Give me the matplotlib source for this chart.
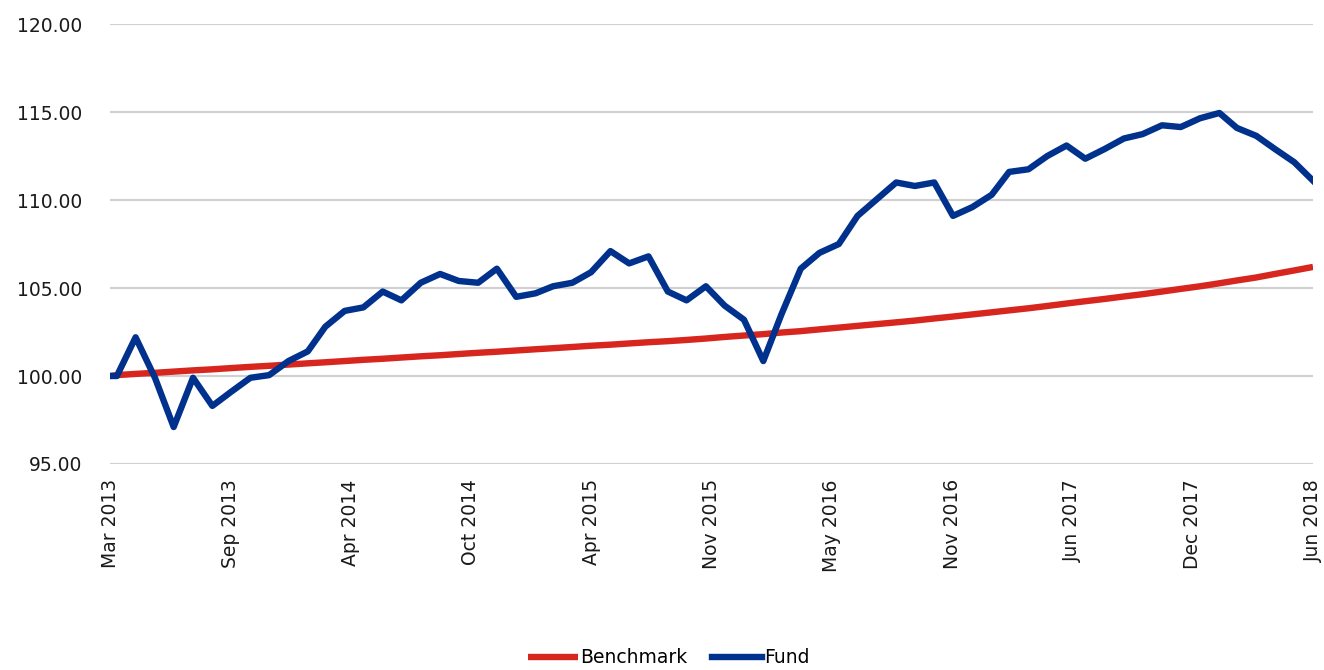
import numpy as np
import pandas as pd
import matplotlib
matplotlib.use('Agg')
from matplotlib import pyplot as plt
import matplotlib.dates as mdates


# inception date, then month-end values
start_date = pd.Timestamp('2013-03-20')
month_ends = pd.date_range('2013-03-31', periods=64, freq='ME')
dates = [start_date] + list(month_ends)

fund = [100.0,
        100.0, 102.2, 99.9, 97.1, 99.9, 98.3, 99.1, 99.9, 100.05, 100.85,
        101.4, 102.8, 103.7, 103.9, 104.8, 104.3, 105.3, 105.8, 105.4, 105.3,
        106.1, 104.5, 104.7, 105.1, 105.3, 105.9, 107.1, 106.4, 106.8, 104.8,
        104.3, 105.1, 104.0, 103.2, 100.85, 103.5, 106.1, 107.0, 107.5, 109.1,
        110.05, 111.0, 110.8, 111.0, 109.1, 109.6, 110.3, 111.6, 111.75, 112.5,
        113.1, 112.35, 112.9, 113.5, 113.75, 114.25, 114.15, 114.65, 114.95, 114.1,
        113.65, 112.9, 112.15, 111.1]

benchmark = [100.0,
             100.05, 100.12, 100.18, 100.25, 100.32, 100.38, 100.45, 100.52, 100.58, 100.65,
             100.72, 100.78, 100.85, 100.92, 100.98, 101.05, 101.12, 101.18, 101.25, 101.32,
             101.38, 101.45, 101.52, 101.58, 101.65, 101.72, 101.78, 101.85, 101.92, 101.98,
             102.05, 102.13, 102.22, 102.30, 102.38, 102.47, 102.55, 102.65, 102.75, 102.85,
             102.95, 103.05, 103.15, 103.27, 103.38, 103.50, 103.62, 103.73, 103.85, 103.98,
             104.12, 104.25, 104.38, 104.52, 104.65, 104.80, 104.95, 105.10, 105.27, 105.43,
             105.60, 105.80, 106.00, 106.20]

y_ticks = [95, 100, 105, 110, 115, 120]

red = '#d7261e'
blue = '#00318c'
grid_col = '#d0d0d0'
txt_col = '#1a1a1a'

fig = plt.figure(figsize=(13.24, 6.70), dpi=100)
ax = fig.add_axes([0.0831, 0.3075, 0.9086, 0.6565])

ax.plot(dates, benchmark, color=red, lw=4.6, label='Benchmark', solid_capstyle='butt', zorder=3)
ax.plot(dates, fund, color=blue, lw=4.6, label='Fund', solid_joinstyle='round', zorder=4)

ax.set_ylim(95, 120)
ax.set_yticks(y_ticks)
ax.yaxis.set_major_formatter(matplotlib.ticker.FormatStrFormatter('%.2f'))
ax.grid(axis='y', color=grid_col, lw=1.5, zorder=0)

x0 = mdates.date2num(dates[0])
x1 = mdates.date2num(dates[-1])
ax.set_xlim(x0, x1)
ax.set_xticks(np.linspace(x0, x1, 11))
ax.xaxis.set_major_formatter(mdates.DateFormatter('%b %Y'))

for s in ax.spines.values():
    s.set_visible(False)
ax.tick_params(axis='both', length=0, labelsize=13.5, labelcolor=txt_col)
ax.tick_params(axis='y', pad=20)
ax.tick_params(axis='x', pad=11)
plt.setp(ax.get_xticklabels(), rotation=90, va='top', ha='center')

fig.legend(loc='center', bbox_to_anchor=(0.505, 0.018), ncol=2, frameon=False,
           fontsize=13.5, handlelength=2.7, handletextpad=0.1, columnspacing=1.3)

fig.savefig('out.png', dpi=100)
